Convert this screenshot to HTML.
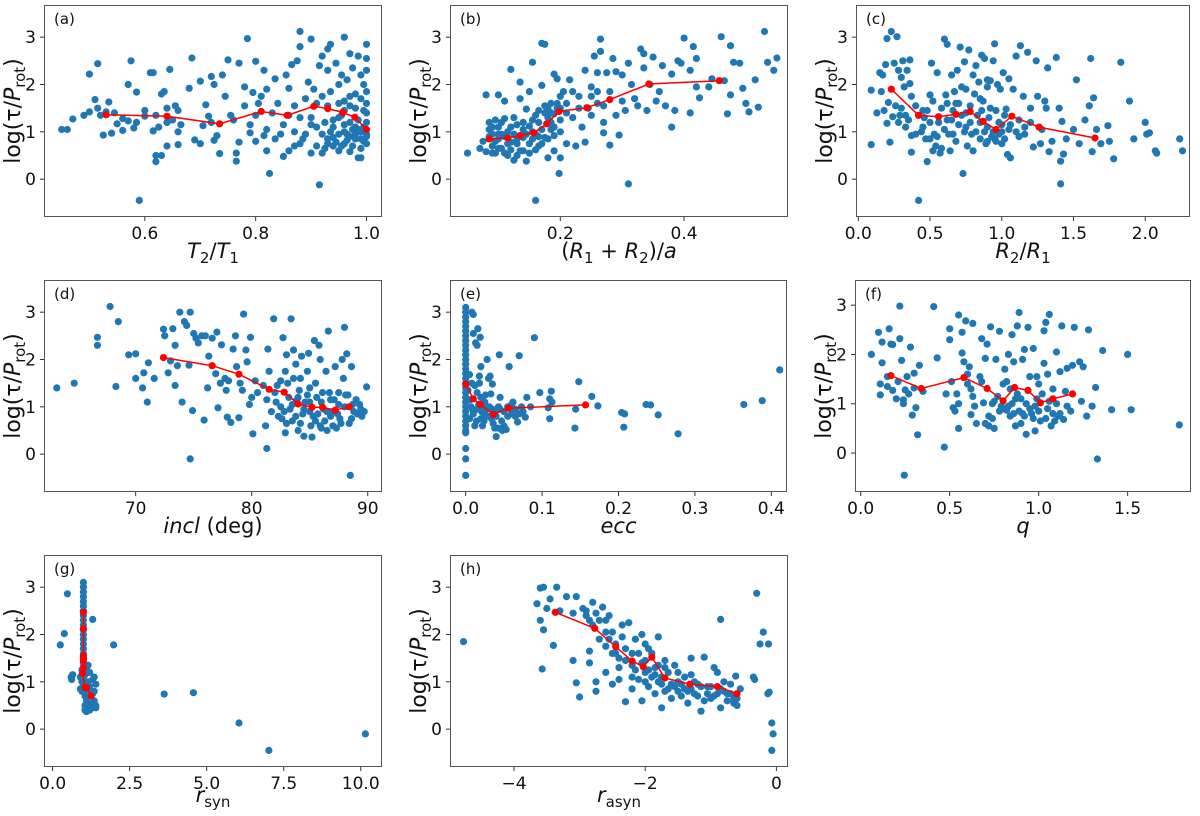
<!DOCTYPE html>
<html><head><meta charset="utf-8">
<style>
html,body{margin:0;padding:0;background:#fff;}
svg{display:block;font-family:"DejaVu Sans","Liberation Sans",sans-serif;}
</style></head>
<body>
<svg id="fig" width="1200" height="816" viewBox="0 0 1200 816" xmlns="http://www.w3.org/2000/svg"></svg>
<script>
// ---- data ----
const ptsA=[[0.45,1.05],[0.46,1.05],[0.47,1.27],[0.49,1.35],[0.50,1.42],[0.50,2.22],[0.51,1.68],[0.515,1.5],[0.515,2.44],[0.52,1.35],[0.525,0.93],[0.53,1.42],[0.535,1.63],[0.54,0.97],[0.545,1.4],[0.55,1.17],[0.56,1.28],[0.56,1.03],[0.57,2.0],[0.57,1.23],[0.575,2.5],[0.58,1.08],[0.585,1.84],[0.585,1.2],[0.59,-0.45],[0.6,1.33],[0.6,1.45],[0.61,2.25],[0.615,2.25],[0.615,1.02],[0.62,0.5],[0.62,0.37],[0.625,1.1],[0.63,0.5],[0.63,1.8],[0.635,1.85],[0.64,1.5],[0.64,0.7],[0.645,2.32],[0.65,1.25],[0.655,1.55],[0.66,1.0],[0.66,0.73],[0.665,1.15],[0.68,1.92],[0.685,2.56],[0.69,0.83],[0.7,2.07],[0.7,0.75],[0.705,1.13],[0.71,1.57],[0.715,1.33],[0.72,2.17],[0.72,1.2],[0.725,2.0],[0.725,0.82],[0.73,0.92],[0.735,0.54],[0.74,2.2],[0.745,1.75],[0.75,2.52],[0.755,1.35],[0.76,1.25],[0.765,0.55],[0.765,0.38],[0.77,2.45],[0.77,0.78],[0.78,1.95],[0.78,1.55],[0.785,2.97],[0.79,1.15],[0.79,0.98],[0.795,1.83],[0.8,2.49],[0.8,0.8],[0.805,1.6],[0.81,1.75],[0.815,2.3],[0.815,0.92],[0.82,1.9],[0.82,0.6],[0.825,0.12],[0.83,1.4],[0.835,2.12],[0.835,0.85],[0.84,1.6],[0.845,0.95],[0.85,0.48],[0.855,2.2],[0.86,1.92],[0.86,0.6],[0.865,2.42],[0.87,1.55],[0.87,0.7],[0.875,2.5],[0.88,3.12],[0.88,2.8],[0.88,1.3],[0.885,0.85],[0.89,1.7],[0.895,2.05],[0.9,2.96],[0.9,0.55],[0.9,1.15],[0.905,1.9],[0.91,1.6],[0.91,0.7],[0.915,2.4],[0.915,-0.12],[0.92,2.6],[0.92,0.95],[0.925,0.65],[0.925,1.2],[0.93,2.75],[0.93,2.3],[0.93,0.75],[0.935,2.85],[0.935,1.85],[0.94,1.1],[0.94,0.88],[0.945,2.45],[0.95,2.0],[0.95,0.6],[0.955,2.2],[0.955,1.35],[0.96,3.0],[0.96,1.65],[0.96,0.75],[0.965,2.1],[0.965,0.95],[0.97,2.65],[0.97,1.55],[0.97,0.58],[0.975,2.35],[0.975,1.05],[0.98,1.8],[0.98,0.85],[0.985,2.6],[0.985,1.25],[0.99,2.2],[0.99,0.45],[0.99,1.0],[0.995,1.45],[0.995,0.8],[1.0,2.85],[1.0,2.55],[1.0,2.3],[1.0,1.85],[1.0,1.6],[1.0,1.4],[1.0,1.2],[1.0,0.95],[1.0,0.75],[1.0,0.9],[0.985,0.45],[0.94,0.7],[0.92,0.55],[0.95,1.3],[0.9,1.3],[0.86,1.35],[0.97,0.9],[0.98,1.1],[0.96,1.0],[0.99,0.65],
[0.93,0.85],[0.935,1.0],[0.945,0.78],[0.95,0.95],[0.955,0.7],[0.96,1.15],[0.965,0.82],[0.97,1.2],[0.975,0.7],[0.98,0.95],[0.985,1.05],[0.99,0.85],[0.995,1.1],[0.94,1.25],[0.95,1.6],[0.96,1.45],[0.97,1.75],[0.98,1.5],[0.99,1.7],[0.995,2.0],[0.93,1.55],[0.92,1.75],[0.91,1.1],[0.89,0.95],[0.88,0.75],[0.87,1.0],[0.85,1.15],[0.82,1.05],[0.8,1.35],[0.62,1.35],[0.64,1.2],[0.66,1.45]];
const lineA=[[0.53,1.36],[0.64,1.33],[0.735,1.17],[0.81,1.43],[0.857,1.35],[0.905,1.54],[0.93,1.49],[0.957,1.41],[0.979,1.31],[1.0,1.05]];

const ptsB=[[0.05,0.55],[0.07,0.65],[0.075,0.8],[0.08,0.58],[0.08,1.78],[0.085,1.2],[0.085,1.05],[0.09,0.95],[0.09,0.7],[0.095,1.25],[0.095,0.55],[0.1,1.78],[0.1,1.1],[0.1,0.85],[0.105,0.65],[0.11,1.65],[0.11,1.28],[0.115,1.0],[0.115,0.5],[0.12,0.78],[0.12,2.32],[0.125,1.3],[0.125,0.4],[0.13,1.15],[0.13,0.85],[0.135,1.7],[0.135,2.05],[0.14,0.6],[0.14,1.05],[0.145,0.38],[0.145,1.48],[0.15,0.75],[0.15,1.85],[0.155,2.47],[0.155,1.25],[0.16,0.95],[0.16,-0.45],[0.165,1.45],[0.165,0.7],[0.17,2.87],[0.175,2.85],[0.17,1.98],[0.175,0.88],[0.18,0.45],[0.18,1.3],[0.185,1.6],[0.185,1.05],[0.19,2.22],[0.19,0.6],[0.195,2.12],[0.195,1.5],[0.198,0.12],[0.2,0.45],[0.2,1.25],[0.205,1.85],[0.21,0.75],[0.21,1.6],[0.215,2.1],[0.22,1.85],[0.22,1.3],[0.225,0.7],[0.23,1.75],[0.235,1.1],[0.24,0.78],[0.24,2.3],[0.245,1.5],[0.25,1.95],[0.25,1.35],[0.255,2.6],[0.26,2.25],[0.26,1.6],[0.265,2.7],[0.265,2.96],[0.27,1.2],[0.27,0.98],[0.275,2.25],[0.28,0.72],[0.28,1.85],[0.285,2.55],[0.29,1.35],[0.29,2.27],[0.295,0.93],[0.3,1.65],[0.3,2.2],[0.305,1.45],[0.31,2.45],[0.31,-0.1],[0.315,2.0],[0.32,1.7],[0.325,1.55],[0.33,2.75],[0.335,2.65],[0.335,2.35],[0.34,1.45],[0.345,2.0],[0.35,2.58],[0.355,1.65],[0.36,1.85],[0.365,2.4],[0.37,1.55],[0.38,2.22],[0.38,1.1],[0.385,1.45],[0.39,2.5],[0.395,2.45],[0.4,2.98],[0.41,2.3],[0.41,1.4],[0.415,2.8],[0.42,2.55],[0.42,1.95],[0.425,1.72],[0.44,1.95],[0.445,2.12],[0.46,3.01],[0.465,2.08],[0.47,1.38],[0.475,2.82],[0.475,1.78],[0.48,2.47],[0.49,2.45],[0.495,1.92],[0.5,1.6],[0.505,1.42],[0.515,2.1],[0.52,1.52],[0.53,3.12],[0.535,2.47],[0.545,2.3],[0.55,2.56],[0.13,0.75],[0.14,0.88],[0.15,1.12],[0.16,0.62],[0.1,0.65],[0.11,0.9],[0.12,0.62],[0.17,1.05],[0.165,1.2],[0.18,1.5],[0.19,1.38],[0.2,1.0],[0.19,0.92],[0.09,1.1],[0.105,1.2],[0.155,0.85],[0.145,0.95],[0.175,1.4],[0.185,1.2],
[0.085,0.9],[0.095,0.8],[0.105,0.95],[0.115,0.75],[0.125,0.95],[0.135,0.6],[0.14,1.2],[0.15,0.55],[0.155,1.0],[0.16,1.35],[0.165,0.9],[0.17,0.75],[0.175,1.55],[0.18,0.85],[0.185,1.4],[0.19,1.1],[0.195,1.6],[0.2,1.5],[0.12,1.1],[0.11,0.55],[0.1,0.95],[0.09,0.55],[0.13,0.5],[0.2,1.75],[0.21,1.4],[0.23,1.5],[0.25,1.75],[0.27,1.55],[0.26,1.85]];
const lineB=[[0.085,0.85],[0.115,0.87],[0.135,0.92],[0.157,0.98],[0.178,1.17],[0.198,1.43],[0.243,1.51],[0.28,1.68],[0.343,2.01],[0.457,2.08]];

const ptsC=[[0.09,1.88],[0.09,0.73],[0.13,1.4],[0.15,2.25],[0.16,1.85],[0.17,2.2],[0.18,1.45],[0.19,2.42],[0.2,2.97],[0.2,1.18],[0.21,1.62],[0.22,0.78],[0.23,3.12],[0.24,1.32],[0.25,2.45],[0.26,1.55],[0.27,3.01],[0.28,2.3],[0.28,1.2],[0.29,1.35],[0.3,2.15],[0.31,2.5],[0.32,1.95],[0.33,1.1],[0.34,2.3],[0.35,1.25],[0.36,2.52],[0.36,2.02],[0.37,1.75],[0.37,0.92],[0.37,0.57],[0.4,1.55],[0.42,1.35],[0.42,-0.45],[0.44,1.0],[0.45,1.45],[0.46,1.3],[0.47,0.85],[0.48,0.37],[0.5,1.78],[0.51,2.45],[0.52,1.65],[0.53,0.95],[0.54,0.7],[0.55,2.25],[0.56,1.2],[0.57,0.55],[0.58,1.5],[0.6,2.96],[0.61,1.78],[0.62,2.85],[0.63,0.95],[0.64,0.6],[0.65,2.2],[0.66,1.45],[0.67,1.85],[0.68,0.8],[0.69,2.3],[0.7,1.6],[0.71,2.79],[0.72,1.95],[0.73,0.12],[0.74,2.48],[0.75,1.1],[0.76,0.7],[0.77,2.73],[0.78,1.55],[0.79,0.95],[0.8,2.2],[0.81,1.8],[0.82,2.4],[0.83,1.35],[0.84,2.05],[0.85,0.85],[0.86,2.62],[0.87,1.65],[0.88,2.55],[0.89,0.75],[0.9,1.95],[0.91,1.3],[0.92,2.08],[0.93,0.9],[0.94,2.5],[0.95,2.86],[0.96,1.45],[0.97,2.0],[0.98,0.95],[0.99,1.9],[1.0,1.15],[1.01,2.25],[1.02,0.85],[1.03,1.48],[1.04,0.52],[1.05,2.12],[1.06,0.45],[1.08,1.9],[1.1,2.6],[1.12,1.25],[1.13,2.82],[1.15,1.75],[1.16,0.95],[1.18,2.68],[1.2,1.5],[1.22,0.68],[1.24,2.5],[1.25,1.75],[1.27,0.75],[1.28,1.05],[1.3,1.65],[1.31,1.5],[1.32,2.35],[1.33,0.58],[1.35,0.8],[1.38,2.57],[1.4,1.5],[1.41,0.38],[1.41,-0.1],[1.42,1.22],[1.43,0.53],[1.45,0.85],[1.5,1.05],[1.52,2.1],[1.54,0.75],[1.58,1.25],[1.61,1.55],[1.62,2.55],[1.63,0.58],[1.64,1.72],[1.66,1.05],[1.69,0.75],[1.74,1.13],[1.75,0.8],[1.78,0.43],[1.83,2.47],[1.89,1.65],[1.92,0.85],[2.0,1.2],[2.01,0.95],[2.03,0.98],[2.07,0.6],[2.08,0.55],[2.24,0.85],[2.26,0.6],[0.5,1.2],[0.6,1.05],[0.7,1.15],[0.8,0.6],[0.9,1.1],[1.0,0.75],[1.1,1.0],[0.55,0.9],[0.65,1.25],[0.75,1.4],[0.85,1.2],[0.95,0.85],[1.05,1.05],[0.62,1.6],[0.72,1.35],
[0.5,0.85],[0.52,0.6],[0.58,0.65],[0.62,1.25],[0.66,0.95],[0.68,1.6],[0.74,1.0],[0.78,1.2],[0.82,1.0],[0.86,1.45],[0.88,1.0],[0.9,0.8],[0.92,1.5],[0.94,1.0],[0.96,0.8],[0.98,1.2],[1.0,1.0],[1.02,1.35],[1.06,1.15],[1.12,0.9],[1.16,1.1],[1.2,1.2],[0.45,1.1],[0.48,1.45],[0.4,0.95],[0.3,1.5],[0.33,1.35],[0.85,1.7],[0.75,1.9],[0.9,2.1]];
const lineC=[[0.23,1.9],[0.42,1.35],[0.56,1.32],[0.68,1.37],[0.78,1.43],[0.87,1.22],[0.96,1.05],[1.07,1.33],[1.26,1.1],[1.65,0.87]];

const ptsD=[[63.2,1.4],[64.7,1.5],[66.7,2.47],[66.7,2.3],[67.8,3.12],[68.3,1.43],[68.5,2.8],[69.4,2.1],[70.0,2.12],[70.0,1.6],[70.7,1.72],[70.6,1.4],[71.1,1.93],[71.0,1.1],[71.6,1.6],[72.4,2.64],[72.5,2.5],[72.8,1.72],[73.0,1.97],[73.2,2.65],[73.4,2.3],[73.4,1.45],[73.6,1.87],[73.8,3.0],[74.0,1.1],[74.2,2.8],[74.4,2.72],[74.6,1.88],[74.7,3.0],[74.7,-0.1],[74.9,0.92],[75.0,2.55],[75.4,2.35],[75.7,2.5],[75.9,0.72],[76.2,1.4],[76.3,2.07],[76.6,2.45],[76.9,1.7],[77.0,2.58],[77.1,0.98],[77.3,1.5],[77.4,2.31],[77.8,1.35],[77.9,0.78],[78.2,0.67],[78.4,2.22],[78.6,2.5],[78.7,1.85],[78.9,0.77],[79.0,1.5],[79.3,2.96],[79.5,2.2],[79.6,1.95],[79.8,1.05],[79.9,2.47],[80.1,0.43],[80.3,1.55],[81.2,0.6],[81.3,1.15],[81.3,0.12],[81.4,2.22],[81.5,1.75],[81.7,0.9],[81.9,2.86],[82.1,1.1],[82.3,0.8],[82.5,1.55],[82.7,2.46],[82.9,0.45],[83.0,2.1],[83.2,1.2],[83.4,2.86],[83.5,0.7],[83.6,2.2],[83.8,1.9],[84.0,0.5],[84.1,1.35],[84.3,2.07],[84.4,0.85],[84.5,0.38],[84.8,1.75],[84.9,2.13],[85.0,1.1],[85.1,0.6],[85.2,0.36],[85.4,2.4],[85.5,1.5],[85.7,0.85],[85.8,2.3],[85.9,2.0],[86.1,1.3],[86.3,0.7],[86.4,1.75],[86.5,0.5],[86.6,2.6],[86.8,1.15],[87.0,0.9],[87.2,1.85],[87.3,0.55],[87.5,1.3],[87.6,0.75],[87.8,2.0],[87.9,1.6],[88.0,2.68],[88.2,2.12],[88.3,1.25],[88.4,0.65],[88.5,-0.45],[88.6,1.85],[88.8,0.9],[89.0,1.15],[89.3,1.05],[89.5,0.8],[89.7,0.9],[89.9,1.42],[82.0,1.3],[82.5,1.0],[83.0,0.65],[84.0,1.2],[85.0,0.9],[86.0,1.1],[87.0,0.6],[88.0,1.0],[83.5,1.05],[84.5,0.95],[86.5,0.9],[81.0,1.45],[80.5,1.3],[82.8,0.9],[83.8,0.8],[85.5,0.7],[86.8,0.8],[88.6,0.75],[84.8,1.25],[87.5,1.05],
[82.2,1.45],[82.6,0.75],[83.1,1.5],[83.3,0.95],[83.9,1.15],[84.2,0.65],[84.6,1.1],[85.3,0.8],[85.6,1.2],[85.9,0.6],[86.2,0.95],[86.7,1.3],[87.1,1.15],[87.4,0.85],[87.7,0.65],[88.1,1.25],[88.7,1.05],[89.1,0.85],[89.4,0.95],[86.0,0.55],[85.0,1.4],[84.2,1.6],[83.6,1.6],[82.9,1.75],[76.0,2.5],[75.2,2.45],[77.7,1.6],[78.0,1.55],[80.0,1.2],[79.2,1.35]];
const lineD=[[72.4,2.04],[76.6,1.87],[78.9,1.69],[81.5,1.37],[82.8,1.31],[84.0,1.06],[85.2,0.99],[86.1,0.99],[87.2,0.93],[88.4,1.0]];

const ptsE=[[0,3.1],[0,3.0],[0,2.9],[0,2.8],[0,2.7],[0,2.6],[0,2.5],[0,2.4],[0,2.3],[0,2.2],[0,2.1],[0,2.0],[0,1.9],[0,1.8],[0,1.7],[0,1.6],[0,1.5],[0,1.4],[0,1.3],[0,1.2],[0,1.1],[0,1.0],[0,0.9],[0,0.8],[0,0.7],[0,0.6],[0,0.5],[0,0.45],[0,0.12],[0,-0.1],[0,-0.45],[0.008,3.0],[0.01,2.95],[0.01,2.55],[0.013,2.35],[0.015,2.3],[0.016,2.65],[0.019,2.47],[0.02,1.85],[0.005,1.68],[0.008,1.5],[0.012,1.45],[0.015,1.3],[0.018,1.65],[0.018,1.5],[0.02,1.2],[0.022,1.0],[0.025,0.85],[0.026,1.25],[0.028,2.0],[0.03,1.6],[0.032,1.65],[0.035,1.48],[0.036,0.65],[0.038,0.55],[0.04,0.37],[0.042,0.55],[0.044,2.1],[0.045,1.2],[0.047,0.7],[0.05,0.9],[0.053,0.52],[0.055,1.0],[0.057,1.85],[0.06,0.85],[0.062,1.1],[0.065,0.95],[0.068,0.68],[0.07,2.08],[0.075,0.9],[0.078,0.78],[0.08,1.2],[0.09,2.46],[0.097,1.3],[0.108,0.98],[0.11,0.75],[0.11,1.17],[0.112,1.33],[0.113,1.1],[0.143,0.55],[0.144,0.95],[0.148,1.53],[0.165,1.22],[0.173,1.02],[0.204,0.88],[0.207,0.57],[0.208,0.85],[0.236,1.05],[0.242,1.04],[0.252,0.83],[0.278,0.43],[0.364,1.05],[0.388,1.13],[0.411,1.78],[0.005,0.75],[0.007,1.0],[0.01,0.85],[0.012,0.6],[0.015,0.95],[0.02,0.75],[0.022,0.6],[0.025,1.1],[0.03,0.8],[0.033,1.27],[0.035,0.95],[0.04,0.8],[0.045,0.95],[0.048,0.5],[0.06,1.05],[0.065,0.8],
[0.003,1.35],[0.006,1.15],[0.009,0.95],[0.014,0.7],[0.017,1.05],[0.021,0.9],[0.024,0.7],[0.027,0.95],[0.031,1.0],[0.034,0.75],[0.038,0.9],[0.043,1.0],[0.05,0.6],[0.055,0.8],[0.07,0.85],[0.073,1.0],[0.085,1.0]];
const lineE=[[0.0,1.48],[0.01,1.17],[0.019,1.05],[0.036,0.84],[0.056,0.97],[0.157,1.04]];

const ptsF=[[0.06,2.0],[0.1,2.45],[0.11,1.4],[0.11,1.18],[0.12,1.83],[0.12,2.25],[0.15,1.55],[0.15,1.35],[0.16,2.52],[0.17,2.21],[0.18,2.2],[0.18,1.27],[0.2,1.1],[0.21,1.45],[0.22,2.32],[0.22,2.98],[0.23,1.88],[0.24,1.08],[0.24,1.0],[0.245,-0.45],[0.25,1.28],[0.26,1.55],[0.27,1.2],[0.28,2.15],[0.29,0.77],[0.3,1.32],[0.3,1.62],[0.31,0.92],[0.32,0.37],[0.33,1.78],[0.35,1.25],[0.41,2.97],[0.43,1.93],[0.47,0.12],[0.48,1.2],[0.5,2.52],[0.5,2.3],[0.51,1.45],[0.52,0.92],[0.53,0.85],[0.54,1.2],[0.55,0.5],[0.55,1.0],[0.55,2.8],[0.57,2.45],[0.57,2.03],[0.58,1.85],[0.59,2.68],[0.6,1.6],[0.61,1.75],[0.62,0.78],[0.63,2.63],[0.63,1.15],[0.64,0.95],[0.65,0.6],[0.67,1.55],[0.68,2.32],[0.69,1.02],[0.7,1.92],[0.71,2.21],[0.72,0.75],[0.72,0.55],[0.73,2.56],[0.74,1.0],[0.75,0.5],[0.76,1.9],[0.77,1.15],[0.78,2.47],[0.79,0.95],[0.8,1.4],[0.81,1.7],[0.82,1.45],[0.82,0.87],[0.83,2.0],[0.84,0.75],[0.85,2.4],[0.86,1.85],[0.87,0.55],[0.88,2.58],[0.89,2.85],[0.89,0.85],[0.9,0.6],[0.91,1.9],[0.92,2.1],[0.93,0.38],[0.94,2.55],[0.95,1.55],[0.96,0.8],[0.97,2.12],[0.98,0.45],[0.99,1.55],[1.0,1.4],[1.01,0.65],[1.03,1.82],[1.03,2.48],[1.04,2.65],[1.05,1.6],[1.06,2.81],[1.07,0.55],[1.08,1.3],[1.1,2.05],[1.11,0.75],[1.12,1.65],[1.13,2.58],[1.14,0.68],[1.15,1.25],[1.16,1.72],[1.18,0.85],[1.19,1.78],[1.2,2.55],[1.23,1.85],[1.24,1.05],[1.25,1.75],[1.27,0.75],[1.28,2.5],[1.3,0.95],[1.32,1.33],[1.33,-0.12],[1.36,2.08],[1.41,0.88],[1.5,2.0],[1.52,0.88],[1.79,0.57],[0.85,1.0],[0.9,1.1],[0.95,0.9],[1.0,0.85],[1.05,0.9],[0.8,0.9],[0.75,1.05],[1.1,1.0],[0.7,0.6],[0.68,1.45],[0.92,0.75],[0.98,0.95],[1.02,1.2],[1.08,0.8],[0.86,0.8],
[0.83,0.95],[0.87,1.1],[0.91,0.8],[0.93,1.0],[0.97,0.7],[0.99,1.1],[1.04,0.7],[1.06,1.05],[1.09,0.65],[1.12,0.8],[1.16,0.95],[0.78,0.85],[0.74,0.7],[0.88,1.2],[0.84,1.3],[0.6,1.4],[0.62,1.3]];
const lineF=[[0.17,1.57],[0.34,1.31],[0.58,1.53],[0.71,1.31],[0.80,1.06],[0.865,1.33],[0.94,1.27],[1.01,1.02],[1.08,1.1],[1.19,1.2]];

const ptsG=[[0.25,1.78],[0.38,2.02],[0.48,2.86],[0.6,1.1],[0.62,1.05],[0.65,1.15],[1.98,1.78],[3.62,0.74],[4.57,0.77],[6.05,0.13],[7.02,-0.45],[10.15,-0.1],[1.3,2.32],[1.0,3.1],[1.0,3.0],[1.0,2.9],[1.0,2.8],[1.0,2.7],[1.0,2.6],[1.0,2.5],[1.0,2.4],[1.0,2.3],[1.0,2.2],[1.0,2.1],[1.0,2.0],[1.0,1.9],[1.0,1.8],[1.0,1.7],[1.0,1.6],[1.0,1.5],[1.0,1.4],[1.0,1.3],[1.0,1.2],[1.0,1.1],[1.0,1.0],[1.0,0.9],[0.95,1.25],[0.95,1.0],[0.95,0.8],[1.05,1.15],[1.05,0.7],[1.05,0.5],[1.05,0.4],[1.1,1.3],[1.1,0.95],[1.1,0.6],[1.1,0.45],[1.1,0.37],[1.2,1.2],[1.2,0.9],[1.2,0.7],[1.2,0.5],[1.2,0.4],[1.3,1.05],[1.3,0.75],[1.3,0.55],[1.3,0.45],[1.35,1.1],[1.35,0.8],[1.35,0.6],[1.4,0.5],[1.4,0.45],[1.4,0.95],[0.9,1.1],[0.9,0.85],[1.15,1.0],[1.15,0.8],[1.15,0.55],[1.15,1.35]];
const lineG=[[1.0,2.47],[1.0,2.12],[1.0,1.55],[1.0,1.5],[1.0,1.45],[1.0,1.3],[0.97,1.18],[1.05,0.88],[1.1,0.88],[1.25,0.7]];

const ptsH=[[-4.77,1.85],[-3.65,2.65],[-3.6,2.3],[-3.55,2.1],[-3.6,2.98],[-3.55,3.0],[-3.57,1.27],[-3.5,2.55],[-3.45,2.75],[-3.4,1.77],[-3.35,3.0],[-3.3,2.5],[-3.2,2.8],[-3.1,2.45],[-3.05,2.8],[-3.1,1.45],[-3.05,0.98],[-3.0,0.68],[-2.95,2.55],[-2.9,2.4],[-2.85,1.65],[-2.85,1.4],[-2.8,2.68],[-2.75,2.45],[-2.75,1.0],[-2.75,0.8],[-2.7,2.3],[-2.65,2.58],[-2.6,1.75],[-2.6,1.2],[-2.55,2.4],[-2.5,2.05],[-2.5,0.95],[-2.45,1.8],[-2.4,1.05],[-2.35,2.2],[-2.3,1.7],[-2.3,0.58],[-2.25,2.25],[-2.2,0.85],[-2.2,1.35],[-2.15,1.9],[-2.1,1.6],[-2.1,1.05],[-2.05,2.0],[-2.05,0.6],[-2.0,1.8],[-2.0,1.2],[-1.95,0.9],[-1.9,1.6],[-1.85,1.3],[-1.85,0.75],[-1.8,1.95],[-1.8,1.0],[-1.75,0.45],[-1.7,1.45],[-1.7,0.8],[-1.65,1.2],[-1.6,0.65],[-1.55,1.35],[-1.5,1.0],[-1.45,0.7],[-1.4,1.1],[-1.35,0.55],[-1.3,1.5],[-1.3,0.85],[-1.25,1.0],[-1.2,0.7],[-1.15,0.38],[-1.1,1.52],[-1.05,0.9],[-1.0,0.65],[-0.95,1.3],[-0.9,0.75],[-0.9,1.2],[-0.85,2.32],[-0.85,0.45],[-0.8,1.0],[-0.75,0.6],[-0.7,0.75],[-0.65,0.55],[-0.62,1.12],[-0.6,0.5],[-0.55,0.85],[-0.35,1.1],[-0.33,1.05],[-0.3,2.87],[-0.25,1.8],[-0.2,2.05],[-0.12,1.8],[-0.13,0.75],[-0.11,0.78],[-0.07,0.13],[-0.05,-0.1],[-0.07,-0.45],[-2.9,2.5],[-2.8,2.2],[-2.6,2.3],[-2.4,1.5],[-2.2,1.6],[-2.0,1.45],[-1.9,1.1],[-1.6,0.95],[-1.4,0.85],[-1.2,0.95],[-1.0,0.9],[-0.8,0.8],[-0.7,0.95],[-2.4,1.3],[-2.2,1.1],[-1.8,1.35],[-1.5,1.2],[-2.6,2.05],[-2.35,1.95],[-1.95,1.7],[-2.7,1.9],[-2.5,1.6],[-1.75,1.1],[-1.1,0.6],[-0.65,0.7],
[-2.15,1.25],[-2.05,1.4],[-1.95,1.25],[-1.85,1.15],[-1.75,0.95],[-1.65,0.85],[-1.55,0.9],[-1.45,0.95],[-1.35,0.8],[-1.25,0.75],[-1.15,0.9],[-1.05,0.75],[-0.95,0.7],[-0.85,0.85],[-0.75,0.75],[-0.65,0.65],[-2.3,1.45],[-2.45,1.6],[-2.55,1.9],[-2.85,2.3],[-2.0,1.0],[-1.7,1.3],[-1.5,0.8],[-1.3,1.15],[-0.6,0.65]];
const lineH=[[-3.37,2.47],[-2.77,2.13],[-2.45,1.74],[-2.2,1.44],[-2.03,1.32],[-1.9,1.52],[-1.7,1.08],[-1.32,0.95],[-0.9,0.9],[-0.6,0.75]];

const ticksA=[0.6,0.8,1.0], ticksB=[0.2,0.4], ticksC=[0.0,0.5,1.0,1.5,2.0], ticksD=[70,80,90];
const ticksE=[0.0,0.1,0.2,0.3,0.4], ticksF=[0.0,0.5,1.0,1.5], ticksG=[0.0,2.5,5.0,7.5,10.0], ticksH=[-4,-2,0];
const yTicks=[0,1,2,3];
const tickLabelsH=["\u22124","\u22122","0"];

// ---- layout ----
const NS="http://www.w3.org/2000/svg";
const svg=document.getElementById('fig');
function mk(tag,attrs,parent){const e=document.createElementNS(NS,tag);for(const k in attrs)e.setAttribute(k,attrs[k]);(parent||svg).appendChild(e);return e;}

const panels=[
 {id:'a',L:44,T:5,R:382,B:217,lo:41,xl:[0.418,1.028],yl:[-0.8,3.68],pts:ptsA,line:lineA,ticks:ticksA,fmt:v=>v.toFixed(1),xlab:'<tspan font-style="italic">T</tspan><tspan font-size="15" dy="5">2</tspan><tspan dy="-5">/</tspan><tspan font-style="italic">T</tspan><tspan font-size="15" dy="5">1</tspan>'},
 {id:'b',L:450,T:5,R:788,B:217,lo:41,xl:[0.0217,0.568],yl:[-0.8,3.68],pts:ptsB,line:lineB,ticks:ticksB,fmt:v=>v.toFixed(1),xlab:'(<tspan font-style="italic">R</tspan><tspan font-size="15" dy="5">1</tspan><tspan dy="-5"> + </tspan><tspan font-style="italic">R</tspan><tspan font-size="15" dy="5">2</tspan><tspan dy="-5">)/</tspan><tspan font-style="italic">a</tspan>'},
 {id:'c',L:856,T:5,R:1190,B:217,lo:41,xl:[-0.016,2.312],yl:[-0.8,3.68],pts:ptsC,line:lineC,ticks:ticksC,fmt:v=>v.toFixed(1),xlab:'<tspan font-style="italic">R</tspan><tspan font-size="15" dy="5">2</tspan><tspan dy="-5">/</tspan><tspan font-style="italic">R</tspan><tspan font-size="15" dy="5">1</tspan>'},
 {id:'d',L:44,T:280,R:382,B:492,lo:41,xl:[62.1,91.23],yl:[-0.8,3.68],pts:ptsD,line:lineD,ticks:ticksD,fmt:v=>String(v),xlab:'<tspan font-style="italic">incl</tspan> (deg)'},
 {id:'e',L:450,T:280,R:787,B:492,lo:41,xl:[-0.0205,0.4205],yl:[-0.8,3.68],pts:ptsE,line:lineE,ticks:ticksE,fmt:v=>v.toFixed(1),xlab:'<tspan font-style="italic">ecc</tspan>'},
 {id:'f',L:855,T:280,R:1191,B:492,lo:41,xl:[-0.032,1.856],yl:[-0.79,3.51],pts:ptsF,line:lineF,ticks:ticksF,fmt:v=>v.toFixed(1),xlab:'<tspan font-style="italic">q</tspan>'},
 {id:'g',L:44,T:555,R:382,B:767,lo:35,xl:[-0.28,10.69],yl:[-0.8,3.68],pts:ptsG,line:lineG,ticks:ticksG,fmt:v=>v.toFixed(1),xlab:'<tspan font-style="italic">r</tspan><tspan font-size="15" dy="5">syn</tspan>'},
 {id:'h',L:450,T:555,R:788,B:767,lo:35,xl:[-4.976,0.177],yl:[-0.8,3.68],pts:ptsH,line:lineH,ticks:ticksH,fmt:(v,i)=>tickLabelsH[i],xlab:'<tspan font-style="italic">r</tspan><tspan font-size="15" dy="5">asyn</tspan>'}
];

panels.forEach(p=>{
  const g=mk('g',{});
  
  
  const xs=v=>p.L+(v-p.xl[0])/(p.xl[1]-p.xl[0])*(p.R-p.L);
  const ys=v=>p.B-(v-p.yl[0])/(p.yl[1]-p.yl[0])*(p.B-p.T);
  const cp=mk('clipPath',{id:'clip'+p.id},g);
  mk('rect',{x:p.L,y:p.T,width:p.R-p.L,height:p.B-p.T},cp);
  const pg=mk('g',{'clip-path':'url(#clip'+p.id+')'},g);
  p.pts.forEach(d=>{
    const c=mk('circle',{cx:xs(d[0]).toFixed(1),cy:ys(d[1]).toFixed(1),r:3.6,fill:'#1f77b4'},pg);
    
    
  });
  const path=p.line.map((d,i)=>(i?'L':'M')+xs(d[0]).toFixed(1)+','+ys(d[1]).toFixed(1)).join('');
  const ln=mk('path',{d:path,fill:'none',stroke:'#ff0000','stroke-width':1.5},pg);
  
  
  p.line.forEach(d=>{
    const c=mk('circle',{cx:xs(d[0]).toFixed(1),cy:ys(d[1]).toFixed(1),r:3.6,fill:'#ff0000'},pg);
    
    
  });
  const fr=mk('rect',{x:p.L+0.5,y:p.T+0.5,width:p.R-p.L-1,height:p.B-p.T-1,fill:'none',stroke:'#555','stroke-width':1},g);
  
  
  p.ticks.forEach((v,i)=>{
    const x=xs(v);
    mk('line',{x1:x,x2:x,y1:p.B,y2:p.B+4,stroke:'#333','stroke-width':1},g);
    const t=mk('text',{x:x,y:p.B+22,'font-size':17,'text-anchor':'middle',fill:'#111'},g);
    t.textContent=p.fmt(v,i);
    
    
  });
  yTicks.forEach(v=>{
    const y=ys(v);
    mk('line',{x1:p.L-4,x2:p.L,y1:y,y2:y,stroke:'#333','stroke-width':1},g);
    const t=mk('text',{x:p.L-8,y:y+6,'font-size':17,'text-anchor':'end',fill:'#111'},g);
    t.textContent=String(v);
    
    
  });
  const xl=mk('text',{x:(p.L+p.R)/2,y:p.B+p.lo,'font-size':21,'text-anchor':'middle',fill:'#111'},g);
  xl.innerHTML=p.xlab;
  
  
  const cy=(p.T+p.B)/2, cx=p.L-24;
  const yl=mk('text',{x:cx,y:cy,'font-size':22,'text-anchor':'middle',fill:'#111',transform:'rotate(-90 '+cx+' '+cy+')'},g);
  yl.innerHTML='log(τ/<tspan font-style="italic">P</tspan><tspan font-size="15" dy="5">rot</tspan><tspan dy="-5">)</tspan>';
  
  
  const pl=mk('text',{x:p.L+10,y:p.T+19,'font-size':15,fill:'#111'},g);
  pl.textContent='('+p.id+')';
  
  
});
</script>
</body></html>
